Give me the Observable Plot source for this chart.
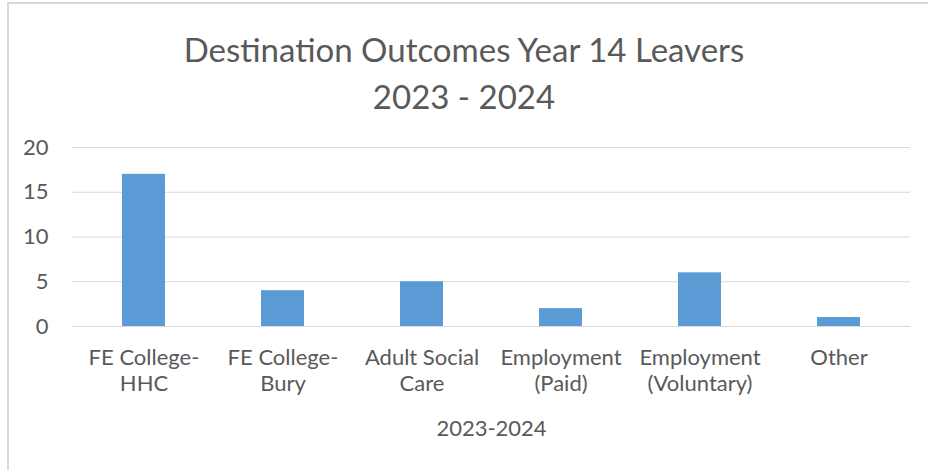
<!DOCTYPE html>
<html>
<head>
<meta charset="utf-8">
<script src="https://cdn.jsdelivr.net/npm/d3@7"></script>
<script src="https://cdn.jsdelivr.net/npm/@observablehq/plot@0.6"></script>
<style>
  html, body { margin: 0; padding: 0; background: #fff; }
  body { width: 928px; height: 470px; position: relative; overflow: hidden; font-family: Lato, "Open Sans", sans-serif; }
  #frame { position: absolute; left: 7px; top: 2px; width: 940px; height: 480px; border-left: 2px solid #d9d9d9; border-top: 2px solid #d9d9d9; box-sizing: border-box; }
  #title { position: absolute; left: 0; top: 26px; width: 928px; text-align: center; color: #595959; font-size: 33px; line-height: 47px; }
  #chart { position: absolute; left: 0; top: 130px; }
</style>
</head>
<body>
<div id="frame"></div>
<div id="title">Destination Outcomes Year 14 Leavers<br>2023 - 2024</div>
<div id="chart"></div>
<script>
const categories = ["FE College-\nHHC", "FE College-\nBury", "Adult Social\nCare", "Employment\n(Paid)", "Employment\n(Voluntary)", "Other"];
const values = [17, 4, 5, 2, 6, 1];
const yTicks = [0, 5, 10, 15, 20];
const axisTitle = "2023-2024";

const data = categories.map((c, i) => ({category: c, value: values[i]}));

const chart = Plot.plot({
  width: 928,
  height: 340,
  marginTop: 17,
  marginBottom: 144,
  marginLeft: 72,
  marginRight: 18,
  style: {fontFamily: "Lato, 'Open Sans', sans-serif", color: "#595959", background: "transparent"},
  x: {domain: categories, paddingInner: 0.69, paddingOuter: 0.345, label: null},
  y: {domain: [0, 20], label: null},
  marks: [
    Plot.gridY(yTicks, {stroke: "#d9d9d9", strokeOpacity: 1, strokeWidth: 1.2}),
    Plot.barY(data, {x: "category", y: "value", fill: "#5b9bd5"}),
    Plot.axisY(yTicks, {tickSize: 0, tickPadding: 24, fontSize: 22, fill: "#595959", label: null}),
    Plot.axisX({tickSize: 0, tickPadding: 21, fontSize: 22, fill: "#595959", lineHeight: 1.15, label: null}),
    Plot.text([axisTitle], {frameAnchor: "bottom", dy: 109, fontSize: 22, fill: "#595959", text: d => d})
  ]
});
document.getElementById("chart").appendChild(chart);
</script>
</body>
</html>
